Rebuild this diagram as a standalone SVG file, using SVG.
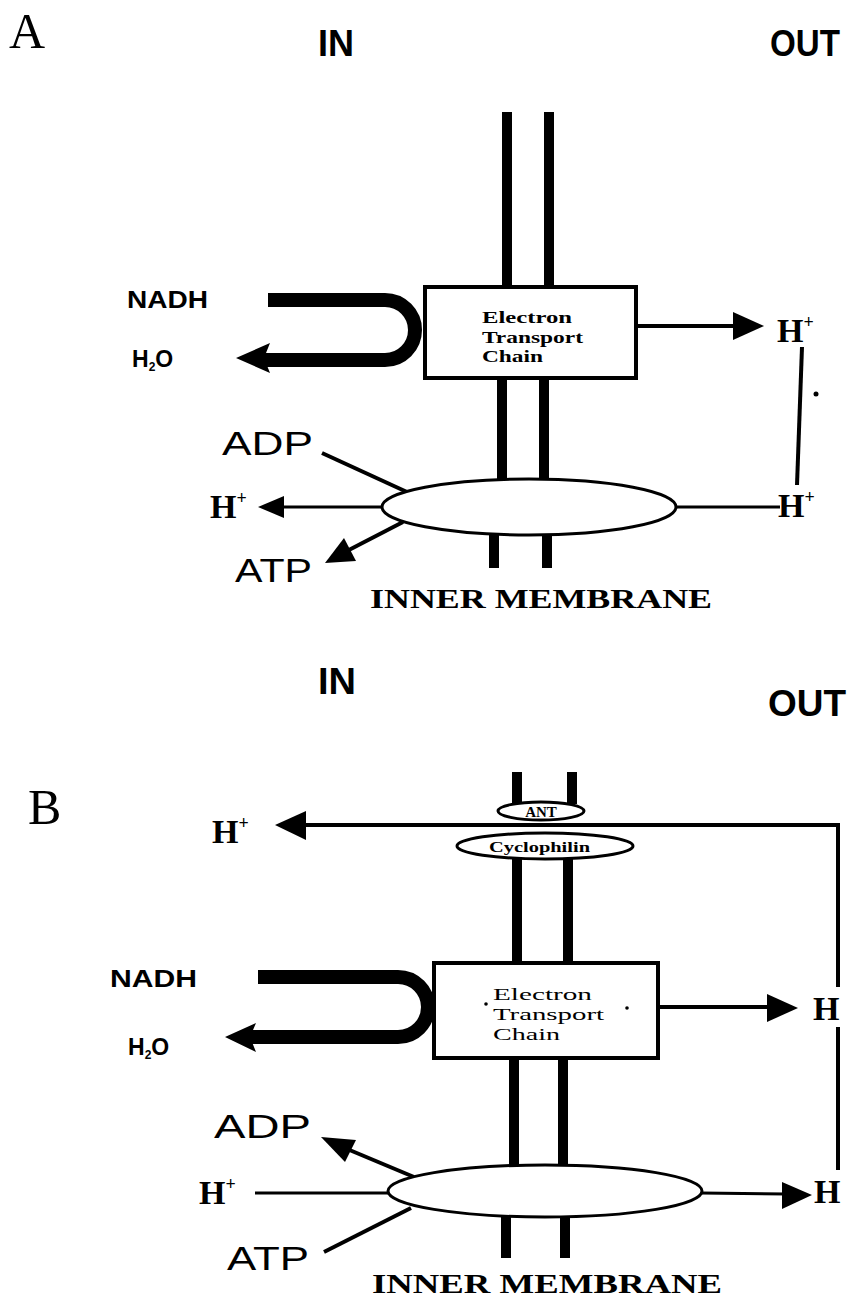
<svg xmlns="http://www.w3.org/2000/svg" width="852" height="1301" viewBox="0 0 852 1301">
<style>
.bg{fill:#fff}
.mem{stroke:#000;stroke-width:10;fill:none}
.ln{stroke:#000;stroke-width:4;fill:none}
.thin{stroke:#000;stroke-width:3;fill:none}
.u{stroke:#000;stroke-width:14;fill:none}
.box{fill:#fff;stroke:#000;stroke-width:4}
.ell{fill:#fff;stroke:#000;stroke-width:3}
.head{fill:#000}
.hdr{font-family:"Liberation Sans",Arial,sans-serif;font-weight:bold;font-size:36px;fill:#000}
.panel{font-family:"Liberation Serif","Times New Roman",serif;font-size:50px;fill:#000}
.sans{font-family:"Liberation Sans",Arial,sans-serif;fill:#000}
.serif{font-family:"Liberation Serif","Times New Roman",serif;fill:#000}
.hp{font-family:"Liberation Serif","Times New Roman",serif;font-weight:bold;font-size:34px;fill:#000}
.sup{font-size:18px}
.etc{font-family:"Liberation Serif","Times New Roman",serif;font-weight:bold;font-size:17px;fill:#000}
.mb{font-family:"Liberation Serif","Times New Roman",serif;font-weight:bold;font-size:28px;fill:#000}
</style>
<rect class="bg" x="0" y="0" width="852" height="1301"/>

<!-- Panel A -->
<g id="panelA-labels">
<text class="panel" x="9" y="48">A</text>
<text class="hdr" x="318" y="56" textLength="36" lengthAdjust="spacingAndGlyphs">IN</text>
<text class="hdr" x="770" y="56" textLength="70" lengthAdjust="spacingAndGlyphs">OUT</text>
</g>
<g id="A-membrane">
<line class="mem" x1="507" y1="112" x2="507" y2="287"/>
<line class="mem" x1="549" y1="112" x2="549" y2="287"/>
<line class="mem" x1="502" y1="378" x2="502" y2="482"/>
<line class="mem" x1="544" y1="378" x2="544" y2="482"/>
<line class="mem" x1="494" y1="532" x2="494" y2="568"/>
<line class="mem" x1="547" y1="532" x2="547" y2="568"/>
</g>
<g id="A-connectors">
<path class="u" d="M268 300 H385 A30 30 0 0 1 385 360 H262"/>
<polygon class="head" points="236,358 270,343 264,358 270,373"/>
<line class="ln" x1="636" y1="326" x2="736" y2="326"/>
<polygon class="head" points="764,326 733,312 733,340"/>
<line class="ln" x1="802" y1="347" x2="797" y2="485"/>
<line class="thin" x1="676" y1="507" x2="780" y2="507"/>
<line class="ln" x1="322" y1="453" x2="407" y2="492"/>
<line class="thin" x1="383" y1="507" x2="282" y2="507"/>
<polygon class="head" points="258,507 284,496 284,518"/>
<line class="ln" x1="403" y1="522" x2="345" y2="552"/>
<polygon class="head" points="325,563 356,561 344,538"/>
</g>
<g id="A-etc">
<rect class="box" x="425" y="287" width="211" height="91"/>
<text class="etc" x="482" y="323" textLength="90" lengthAdjust="spacingAndGlyphs">Electron</text>
<text class="etc" x="482" y="343" textLength="101" lengthAdjust="spacingAndGlyphs">Transport</text>
<text class="etc" x="482" y="362" textLength="61" lengthAdjust="spacingAndGlyphs">Chain</text>
</g>
<g id="A-atpase">
<ellipse class="ell" cx="529" cy="507" rx="147" ry="28"/>
</g>
<g id="A-texts">
<text class="sans" x="127" y="308" font-size="23" font-weight="bold" textLength="81" lengthAdjust="spacingAndGlyphs">NADH</text>
<text class="sans" x="132" y="367" font-size="23" font-weight="bold">H<tspan font-size="12" dy="4">2</tspan><tspan dy="-4">O</tspan></text>
<text class="hp" x="777" y="342">H<tspan class="sup" dy="-14">+</tspan></text>
<circle cx="816" cy="394" r="2.5"/>
<text class="hp" x="778" y="517">H<tspan class="sup" dy="-14">+</tspan></text>
<text class="hp" x="210" y="518">H<tspan class="sup" dy="-14">+</tspan></text>
<text class="sans" x="222" y="455" font-size="34" textLength="91" lengthAdjust="spacingAndGlyphs">ADP</text>
<text class="sans" x="235" y="582" font-size="34" textLength="77" lengthAdjust="spacingAndGlyphs">ATP</text>
<text class="mb" x="370" y="608" textLength="342" lengthAdjust="spacingAndGlyphs">INNER MEMBRANE</text>
</g>

<!-- Panel B -->
<g id="panelB-labels">
<text class="hdr" x="318" y="694" textLength="38" lengthAdjust="spacingAndGlyphs">IN</text>
<text class="hdr" x="768" y="716" textLength="78" lengthAdjust="spacingAndGlyphs">OUT</text>
<text class="panel" x="28" y="824">B</text>
</g>
<g id="B-membrane">
<line class="mem" x1="517" y1="772" x2="517" y2="804"/>
<line class="mem" x1="572" y1="772" x2="572" y2="804"/>
<line class="mem" x1="517" y1="858" x2="517" y2="963"/>
<line class="mem" x1="568" y1="858" x2="568" y2="963"/>
<line class="mem" x1="514" y1="1058" x2="514" y2="1167"/>
<line class="mem" x1="563" y1="1058" x2="563" y2="1167"/>
<line class="mem" x1="506" y1="1216" x2="506" y2="1258"/>
<line class="mem" x1="565" y1="1216" x2="565" y2="1258"/>
</g>
<g id="B-connectors">
<polyline class="ln" points="838,1170 838,1027"/>
<polyline class="ln" points="838,987 838,825 302,825"/>
<polygon class="head" points="275,825 306,811 306,840"/>
<path class="u" d="M258 977 H398 A30 30 0 0 1 398 1037 H250"/>
<polygon class="head" points="225,1037 256,1023 250,1037 256,1052"/>
<line class="ln" x1="660" y1="1007" x2="770" y2="1007"/>
<polygon class="head" points="798,1008 767,994 767,1022"/>
<line class="ln" x1="414" y1="1177" x2="340" y2="1146"/>
<polygon class="head" points="321,1137 356,1140 345,1162"/>
<line class="thin" x1="255" y1="1193" x2="390" y2="1193"/>
<line class="ln" x1="324" y1="1252" x2="411" y2="1208"/>
<line class="thin" x1="701" y1="1193" x2="786" y2="1194"/>
<polygon class="head" points="812,1195 782,1182 782,1209"/>
</g>
<g id="B-ant">
<ellipse class="ell" cx="541" cy="811" rx="43" ry="9"/>
<text class="serif" x="541" y="817" font-size="15" font-weight="bold" text-anchor="middle">ANT</text>
</g>
<g id="B-cyclophilin">
<ellipse class="ell" cx="545" cy="846" rx="88" ry="13"/>
<text class="serif" x="489" y="852" font-size="15" font-weight="bold" textLength="101" lengthAdjust="spacingAndGlyphs">Cyclophilin</text>
</g>
<g id="B-etc">
<rect class="box" x="434" y="963" width="224" height="95"/>
<text class="serif" x="493" y="1000" font-size="17" textLength="99" lengthAdjust="spacingAndGlyphs">Electron</text>
<text class="serif" x="493" y="1020" font-size="17" textLength="111" lengthAdjust="spacingAndGlyphs">Transport</text>
<text class="serif" x="493" y="1040" font-size="17" textLength="67" lengthAdjust="spacingAndGlyphs">Chain</text>
<circle cx="486" cy="1004" r="1.8"/>
<circle cx="627" cy="1008" r="1.8"/>
</g>
<g id="B-atpase">
<ellipse class="ell" cx="545" cy="1191" rx="157" ry="26"/>
</g>
<g id="B-texts">
<text class="sans" x="110" y="987" font-size="23" font-weight="bold" textLength="87" lengthAdjust="spacingAndGlyphs">NADH</text>
<text class="sans" x="128" y="1055" font-size="23" font-weight="bold">H<tspan font-size="12" dy="4">2</tspan><tspan dy="-4">O</tspan></text>
<text class="hp" x="212" y="843">H<tspan class="sup" dy="-14">+</tspan></text>
<text class="hp" x="813" y="1020">H</text>
<text class="hp" x="199" y="1204">H<tspan class="sup" dy="-14">+</tspan></text>
<text class="hp" x="814" y="1203">H</text>
<text class="sans" x="214" y="1138" font-size="34" textLength="97" lengthAdjust="spacingAndGlyphs">ADP</text>
<text class="sans" x="227" y="1270" font-size="34" textLength="82" lengthAdjust="spacingAndGlyphs">ATP</text>
<text class="mb" x="372" y="1293" textLength="350" lengthAdjust="spacingAndGlyphs">INNER MEMBRANE</text>
</g>
</svg>
